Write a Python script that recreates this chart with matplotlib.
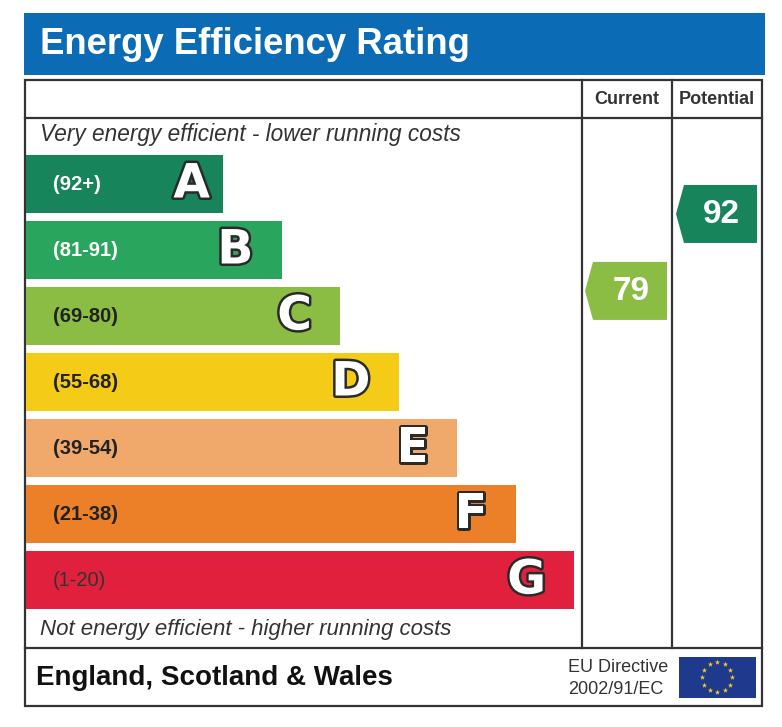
import numpy as np
import matplotlib
matplotlib.use("Agg")
import matplotlib.pyplot as plt
from matplotlib.patches import Rectangle, Polygon
import matplotlib.patheffects as pe

# rating bands, best to worst
bands = ["A", "B", "C", "D", "E", "F", "G"]
ranges = ["(92+)", "(81-91)", "(69-80)", "(55-68)", "(39-54)", "(21-38)", "(1-20)"]
band_colors = ["#17845c", "#2aa55d", "#8bbd44", "#f4cb17", "#f0a86b", "#eb8029", "#e1203d"]
range_text_colors = ["white", "white", "#222222", "#222222", "#222222", "#222222", "#333333"]

current_value = 79
potential_value = 92
current_color = "#8bbd44"
potential_color = "#17845c"

W, H = 782, 727
fig = plt.figure(figsize=(W / 100, H / 100), dpi=100)
ax = fig.add_axes([0, 0, 1, 1])
ax.set_xlim(0, W)
ax.set_ylim(H, 0)
ax.axis("off")

font = "Liberation Sans"
line_c = "#333333"

# title band
ax.add_patch(Rectangle((24, 13), 741, 62, color="#0b6cb5", lw=0))
ax.text(40, 45, "Energy Efficiency Rating", color="white", fontsize=26.3,
        fontweight="bold", family=font, va="center", ha="left")

# table frame
left, right, top, bottom = 25, 762, 80, 706
col1, col2 = 582, 672
head_bot, foot_top = 118, 648
ax.add_patch(Rectangle((left, top), right - left, bottom - top, fill=False,
                       ec=line_c, lw=1.6))
ax.plot([left, right], [head_bot, head_bot], color=line_c, lw=1.6)
ax.plot([left, right], [foot_top, foot_top], color=line_c, lw=1.6)
for x in (col1, col2):
    ax.plot([x, x], [top, foot_top], color=line_c, lw=1.6)

ax.text((col1 + col2) / 2, 100, "Current", fontsize=13, fontweight="bold",
        family=font, color=line_c, ha="center", va="center")
ax.text((col2 + right) / 2, 100, "Potential", fontsize=13, fontweight="bold",
        family=font, color=line_c, ha="center", va="center")

ax.text(40, 135, "Very energy efficient - lower running costs", fontsize=16.3,
        style="italic", family=font, color="#333333", ha="left", va="center")
ax.text(40, 630, "Not energy efficient - higher running costs", fontsize=16,
        style="italic", family=font, color="#333333", ha="left", va="center")

# bands
bar_top0, bar_pitch, bar_h = 155, 66, 58
bar_left, right0, step = 26, 223, 58.5
outline = [pe.withStroke(linewidth=3.6, foreground="#2a2a2a")]
for i, (b, r, c, tc) in enumerate(zip(bands, ranges, band_colors, range_text_colors)):
    y0 = bar_top0 + i * bar_pitch
    xr = right0 + i * step
    ax.add_patch(Rectangle((bar_left, y0), xr - bar_left, bar_h, color=c, lw=0))
    ax.text(53, y0 + bar_h / 2 + 1, r, fontsize=14.5,
            fontweight="normal" if b == "G" else "bold", family=font,
            color=tc, ha="left", va="center")
    off = 13 if b == "A" else 28
    ax.text(xr - off, y0 + bar_h / 2 + 1, b, fontsize=34, fontweight="bold",
            family="DejaVu Sans", color="white", ha="right", va="center",
            path_effects=outline)


def rating_y(v):
    # vertical centre of an indicator arrow for a given rating
    return 166.6 + (100 - v) * 5.92


def arrow(x_tip, x_right, value, color):
    yc = rating_y(value)
    hh = bar_h / 2
    pts = [(x_tip, yc), (x_tip + 8, yc - hh), (x_right, yc - hh),
           (x_right, yc + hh), (x_tip + 8, yc + hh)]
    ax.add_patch(Polygon(pts, closed=True, color=color, lw=0))
    ax.text((x_tip + 8 + x_right) / 2 + 1, yc + 1, str(value), fontsize=24,
            fontweight="bold", family=font, color="white",
            ha="center", va="center")


arrow(585, 667, current_value, current_color)
arrow(676, 757, potential_value, potential_color)

# footer
ax.text(36, 678, "England, Scotland & Wales", fontsize=20, fontweight="bold",
        family=font, color="#111111", ha="left", va="center")
ax.text(568, 667, "EU Directive", fontsize=13, family=font, color="#333333",
        ha="left", va="center")
ax.text(568, 689, "2002/91/EC", fontsize=13, family=font, color="#333333",
        ha="left", va="center")

ax.add_patch(Rectangle((679, 657), 77, 41, color="#1f3a8c", lw=0))
ang = np.linspace(0, 2 * np.pi, 12, endpoint=False)
ax.scatter(717 + 15 * np.cos(ang), 677 + 15 * np.sin(ang), s=16,
           marker="*", color="#f2d21b", lw=0)

fig.savefig("out.png", dpi=100)
